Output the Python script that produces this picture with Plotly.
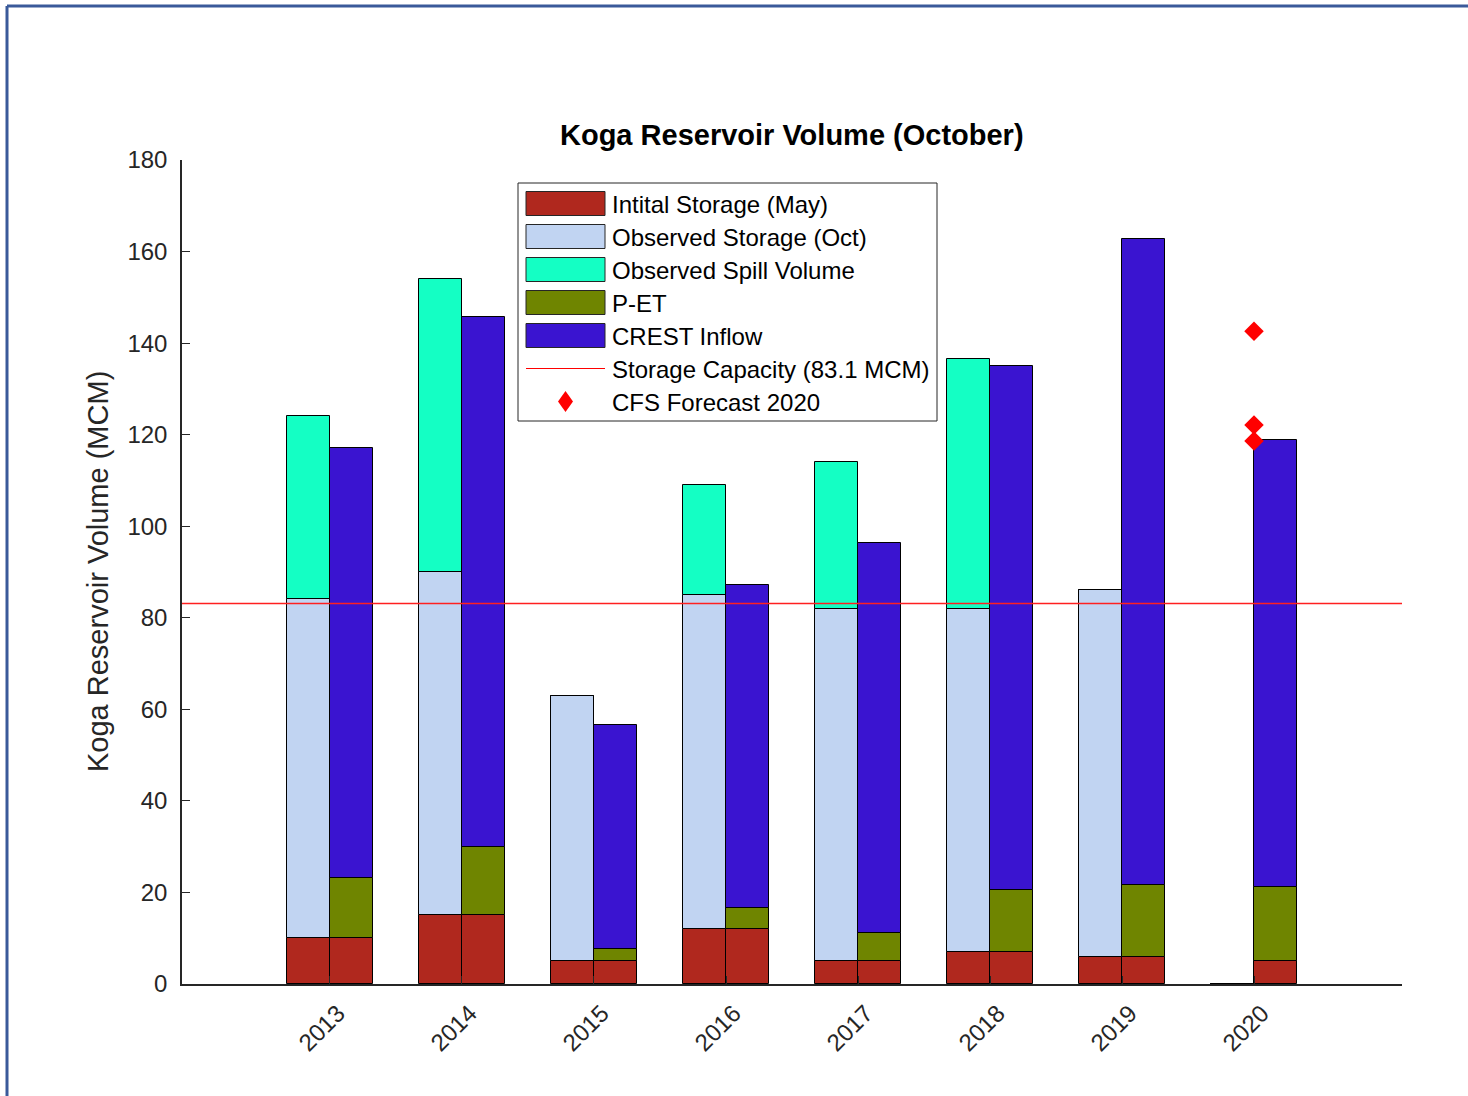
import plotly.graph_objects as go

# Water years
years = [2013, 2014, 2015, 2016, 2017, 2018, 2019, 2020]

# Observed side (left bar of each pair), MCM
obs_initial = [10, 15, 5, 12, 5, 7, 6, 0]          # initial storage in May
obs_storage_oct = [84, 90, 63, 85, 82, 82, 86, 0]   # observed storage in October
obs_spill = [40, 64, 0, 24, 32, 54.5, 0, 0]         # observed spill volume

# Modelled side (right bar of each pair), MCM
crest_initial = [10, 15, 5, 12, 5, 7, 6, 5]
p_minus_et = [13.2, 15, 2.6, 4.6, 6.1, 13.5, 15.6, 16.2]
crest_inflow = [93.9, 115.7, 49.0, 70.6, 85.2, 114.5, 141.1, 97.6]

storage_capacity = 83.1
cfs_forecast_year = [2020, 2020, 2020]
cfs_forecast = [142.6, 122.1, 118.6]

C_INIT = "#B0281E"
C_STOR = "#C1D4F2"
C_SPILL = "#14FFC4"
C_PET = "#6F8500"
C_CREST = "#3A14D0"
EDGE = dict(color="black", width=1)
BAR_W = 0.326
FONT = "Liberation Sans, Arial, sans-serif"

W, H = 1468, 1096
L, R, T, B = 182, 66, 160, 112
PW, PH = W - L - R, H - T - B


def px_x(px):
    return (px - L) / PW


def px_y(py):
    return (H - B - py) / PH


fig = go.Figure()

# left bars: initial + (storage - initial) + spill
stor_seg = [s - i if s > 0 else 0 for s, i in zip(obs_storage_oct, obs_initial)]
spill_base = [max(s, i) for s, i in zip(obs_storage_oct, obs_initial)]
fig.add_trace(go.Bar(x=years, y=obs_initial, base=[0] * len(years), offset=-BAR_W,
                     width=BAR_W, marker=dict(color=C_INIT, line=EDGE)))
fig.add_trace(go.Bar(x=years, y=stor_seg, base=obs_initial, offset=-BAR_W,
                     width=BAR_W, marker=dict(color=C_STOR, line=EDGE)))
fig.add_trace(go.Bar(x=years, y=obs_spill, base=spill_base, offset=-BAR_W,
                     width=BAR_W, marker=dict(color=C_SPILL, line=EDGE)))

# right bars: initial + P-ET + CREST inflow
pet_top = [i + p for i, p in zip(crest_initial, p_minus_et)]
fig.add_trace(go.Bar(x=years, y=crest_initial, base=[0] * len(years), offset=0,
                     width=BAR_W, marker=dict(color=C_INIT, line=EDGE)))
fig.add_trace(go.Bar(x=years, y=p_minus_et, base=crest_initial, offset=0,
                     width=BAR_W, marker=dict(color=C_PET, line=EDGE)))
fig.add_trace(go.Bar(x=years, y=crest_inflow, base=pet_top, offset=0,
                     width=BAR_W, marker=dict(color=C_CREST, line=EDGE)))

# CFS forecast points
fig.add_trace(go.Scatter(x=cfs_forecast_year, y=cfs_forecast, mode="markers",
                         marker=dict(symbol="diamond", size=15, color="#FF0000",
                                     line=dict(width=0))))

shapes = [
    # storage capacity
    dict(type="line", xref="paper", yref="y", x0=0, x1=1,
         y0=storage_capacity, y1=storage_capacity,
         line=dict(color="#FF2020", width=1.5)),
    # outer frame (top and left)
    dict(type="line", xref="paper", yref="paper", x0=px_x(7), x1=px_x(W + 5),
         y0=px_y(6), y1=px_y(6), line=dict(color="#3A5A9A", width=3)),
    dict(type="line", xref="paper", yref="paper", x0=px_x(7), x1=px_x(7),
         y0=px_y(6), y1=px_y(H + 5), line=dict(color="#3A5A9A", width=3)),
    # legend box
    dict(type="rect", xref="paper", yref="paper", x0=px_x(518), x1=px_x(937),
         y0=px_y(421), y1=px_y(183), line=dict(color="#262626", width=1),
         fillcolor="white", layer="above"),
]

annotations = []
legend_rows = [
    ("Intital Storage (May)", "bar", C_INIT),
    ("Observed Storage (Oct)", "bar", C_STOR),
    ("Observed Spill Volume", "bar", C_SPILL),
    ("P-ET", "bar", C_PET),
    ("CREST Inflow", "bar", C_CREST),
    ("Storage Capacity (83.1 MCM)", "line", "#FF0000"),
    ("CFS Forecast 2020", "diamond", "#FF0000"),
]
row0, step = 203.5, 33.0
for k, (label, kind, col) in enumerate(legend_rows):
    cy = row0 + step * k
    if kind == "bar":
        shapes.append(dict(type="rect", xref="paper", yref="paper",
                           x0=px_x(526), x1=px_x(605), y0=px_y(cy + 12),
                           y1=px_y(cy - 12), fillcolor=col,
                           line=dict(color="#262626", width=1), layer="above"))
    elif kind == "line":
        shapes.append(dict(type="line", xref="paper", yref="paper",
                           x0=px_x(526), x1=px_x(605), y0=px_y(cy), y1=px_y(cy),
                           line=dict(color=col, width=1), layer="above"))
    else:
        cx = 565.5
        path = (f"M {px_x(cx)},{px_y(cy - 10.5)} L {px_x(cx + 7.5)},{px_y(cy)} "
                f"L {px_x(cx)},{px_y(cy + 10.5)} L {px_x(cx - 7.5)},{px_y(cy)} Z")
        shapes.append(dict(type="path", xref="paper", yref="paper", path=path,
                           fillcolor=col, line=dict(width=0), layer="above"))
    annotations.append(dict(text=label, xref="paper", yref="paper",
                            x=px_x(610), y=px_y(cy + 1), xanchor="left",
                            yanchor="middle", showarrow=False,
                            font=dict(family=FONT, size=24, color="black")))

# title
annotations.append(dict(text="<b>Koga Reservoir Volume (October)</b>",
                        xref="paper", yref="paper", x=0.5, y=px_y(135),
                        xanchor="center", yanchor="middle", showarrow=False,
                        font=dict(family=FONT, size=29, color="black")))
# y-axis title
annotations.append(dict(text="Koga Reservoir Volume (MCM)", xref="paper",
                        yref="paper", x=px_x(98), y=0.5, textangle=-90,
                        xanchor="center", yanchor="middle", showarrow=False,
                        font=dict(family=FONT, size=29, color="#262626")))

fig.update_layout(
    width=W, height=H,
    margin=dict(l=L, r=R, t=T, b=B, pad=0),
    paper_bgcolor="white", plot_bgcolor="white",
    barmode="overlay", bargap=0,
    showlegend=False,
    font=dict(family=FONT, color="#262626"),
    shapes=shapes, annotations=annotations,
)
fig.update_xaxes(range=[2011.879, 2021.121], tickmode="array", tickvals=years,
                 ticktext=[str(y) for y in years], tickangle=-45,
                 ticks="inside", ticklen=8, tickcolor="#262626",
                 tickfont=dict(family=FONT, size=24, color="#262626"),
                 ticklabelstandoff=4, ticklabelshift=8,
                 showline=True, linecolor="#262626", linewidth=1.5,
                 showgrid=False, zeroline=False)
fig.update_yaxes(range=[0, 180], tickmode="array",
                 tickvals=list(range(0, 181, 20)),
                 ticks="inside", ticklen=8, tickcolor="#262626",
                 tickfont=dict(family=FONT, size=24, color="#262626"),
                 ticklabelstandoff=8,
                 showline=True, linecolor="#262626", linewidth=1.5,
                 showgrid=False, zeroline=False)

fig.write_html("out.html")
